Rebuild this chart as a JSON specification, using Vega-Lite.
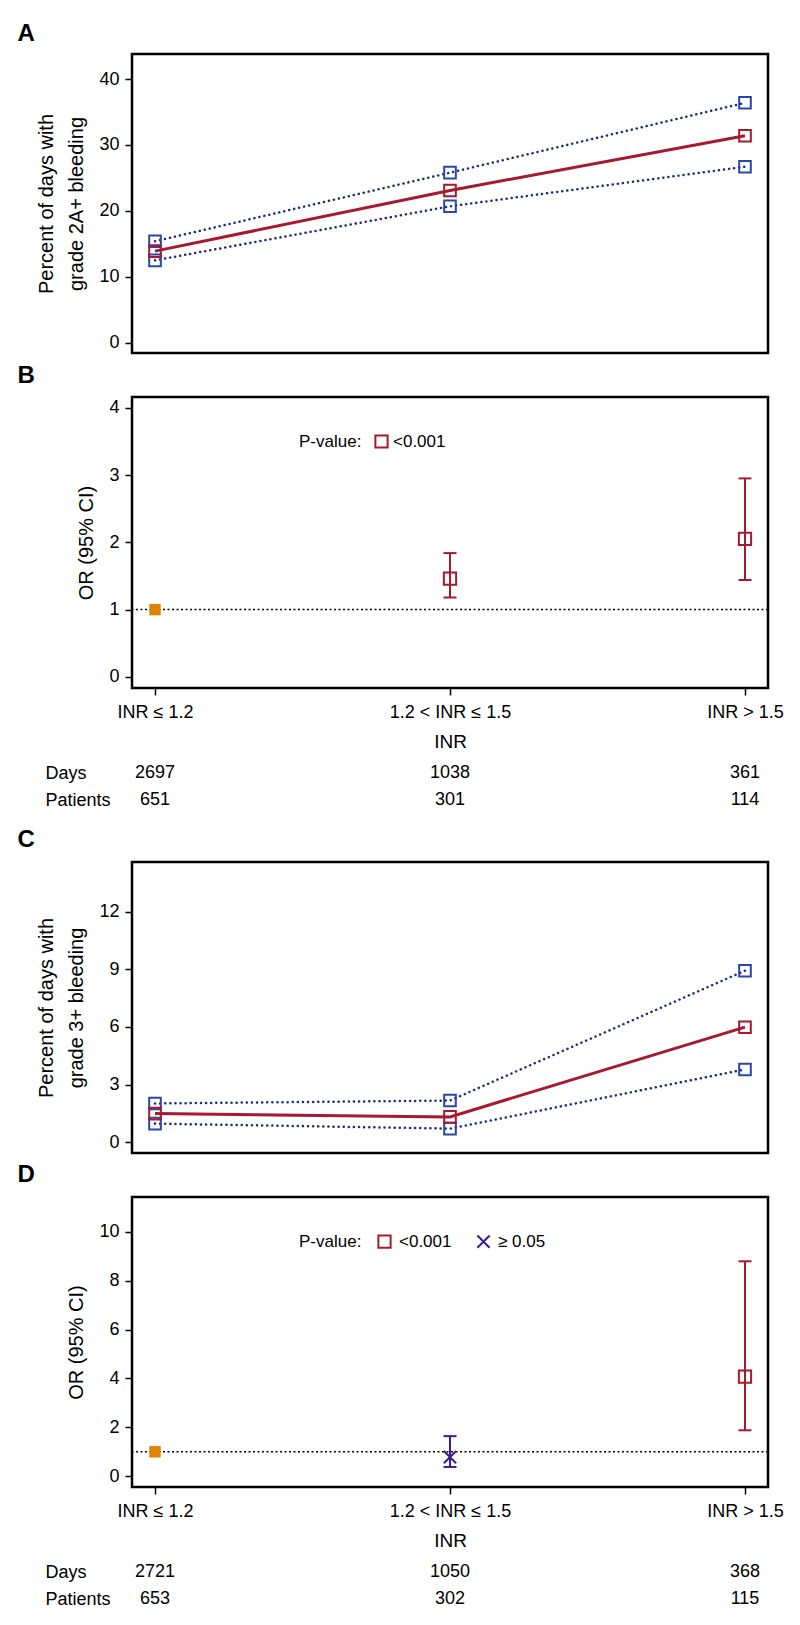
{
  "$schema": "https://vega.github.io/schema/vega-lite/v6.json",
  "padding": {"left": 16, "top": 2, "right": 0, "bottom": 0},
  "background": "white",
  "config": {
    "font": "Liberation Sans",
    "view": {"stroke": "black", "strokeWidth": 2.5},
    "axis": {"domain": false, "grid": false, "tickColor": "black", "tickWidth": 1.5, "tickSize": 7, "labelFontSize": 18, "labelColor": "black", "labelPadding": 6, "titleFontSize": 20, "titleFontWeight": "normal", "titleColor": "black", "titlePadding": 12}
  },
  "spacing": 44,
  "bounds": "flush",
  "resolve": {"scale": {"color": "independent", "shape": "independent"}},
  "vconcat": [
    {"width": 636, "height": 8, "data": {"values": []}, "mark": "point", "encoding": {}, "view": {"stroke": null}},
    {
      "width": 636, "height": 299,
      "title": {"text": "A", "anchor": "start", "frame": "group", "dx": -114.5, "dy": 24, "fontSize": 24, "fontWeight": "bold", "offset": 13, "baseline": "alphabetic", "color": "black"},
      "data": {"values": [
        {"inr": "INR ≤ 1.2", "k": 0, "est": 13.9, "lo": 12.5, "hi": 15.4},
        {"inr": "1.2 < INR ≤ 1.5", "k": 1, "est": 23.1, "lo": 20.7, "hi": 25.8},
        {"inr": "INR > 1.5", "k": 2, "est": 31.4, "lo": 26.7, "hi": 36.4}
      ]},
      "layer": [
        {"mark": {"type": "line", "color": "#1F2A7C", "strokeWidth": 2.5, "strokeDash": [0.1, 5], "strokeCap": "round"},
         "encoding": {
           "x": {"field": "inr", "type": "nominal", "scale": {"type": "point", "domain": ["INR ≤ 1.2", "1.2 < INR ≤ 1.5", "INR > 1.5"], "padding": 0.078}, "axis": null},
           "y": {"field": "lo", "type": "quantitative", "scale": {"domain": [-1.55, 43.8], "nice": false, "zero": false}, "axis": {"values": [0, 10, 20, 30, 40], "title": ["Percent of days with", "grade 2A+ bleeding"], "titleLineHeight": 30}},
           "order": {"field": "k"}}},
        {"mark": {"type": "line", "color": "#1F2A7C", "strokeWidth": 2.5, "strokeDash": [0.1, 5], "strokeCap": "round"},
         "encoding": {
           "x": {"field": "inr", "type": "nominal", "scale": {"type": "point"}, "axis": null},
           "y": {"field": "hi", "type": "quantitative"},
           "order": {"field": "k"}}},
        {"mark": {"type": "line", "color": "#A6192E", "strokeWidth": 3},
         "encoding": {
           "x": {"field": "inr", "type": "nominal", "scale": {"type": "point"}, "axis": null},
           "y": {"field": "est", "type": "quantitative"},
           "order": {"field": "k"}}},
        {"mark": {"type": "point", "shape": "square", "filled": false, "color": "#2848A8", "strokeWidth": 2, "size": 135, "opacity": 1},
         "encoding": {
           "x": {"field": "inr", "type": "nominal", "scale": {"type": "point"}, "axis": null},
           "y": {"field": "lo", "type": "quantitative"}}},
        {"mark": {"type": "point", "shape": "square", "filled": false, "color": "#2848A8", "strokeWidth": 2, "size": 135, "opacity": 1},
         "encoding": {
           "x": {"field": "inr", "type": "nominal", "scale": {"type": "point"}, "axis": null},
           "y": {"field": "hi", "type": "quantitative"}}},
        {"mark": {"type": "point", "shape": "square", "filled": false, "color": "#A6192E", "strokeWidth": 2, "size": 135, "opacity": 1},
         "encoding": {
           "x": {"field": "inr", "type": "nominal", "scale": {"type": "point"}, "axis": null},
           "y": {"field": "est", "type": "quantitative"}}}
      ]
    },
    {
      "width": 636, "height": 291,
      "title": {"text": "B", "anchor": "start", "frame": "group", "dx": -114.5, "dy": 23, "fontSize": 24, "fontWeight": "bold", "offset": 13, "baseline": "alphabetic", "color": "black"},
      "data": {"values": [
        {"inr": "1.2 < INR ≤ 1.5", "p": "<0.001", "est": 1.46, "lo": 1.18, "hi": 1.84},
        {"inr": "INR > 1.5", "p": "<0.001", "est": 2.05, "lo": 1.44, "hi": 2.95}
      ]},
      "layer": [
        {"data": {"values": [{"ref": 1}]},
         "mark": {"type": "rule", "color": "black", "strokeWidth": 1.5, "strokeDash": [2, 2.5]},
         "encoding": {
           "y": {"field": "ref", "type": "quantitative", "scale": {"domain": [-0.165, 4.16], "nice": false, "zero": false}, "axis": {"values": [0, 0.5, 1, 1.5, 2, 2.5, 3, 3.5, 4], "format": "d", "labelExpr": "datum.value % 1 === 0 ? datum.label : ''", "title": "OR (95% CI)"}}}},
        {"data": {"values": [{"inr": "INR ≤ 1.2", "or": 1}]},
         "mark": {"type": "point", "shape": "square", "filled": true, "color": "#E08400", "size": 130, "opacity": 1},
         "encoding": {
           "x": {"field": "inr", "type": "nominal", "scale": {"type": "point", "domain": ["INR ≤ 1.2", "1.2 < INR ≤ 1.5", "INR > 1.5"], "padding": 0.078}, "axis": {"title": "INR", "labelAngle": 0, "labelPadding": 8, "titlePadding": 11, "titleFontSize": 19}},
           "y": {"field": "or", "type": "quantitative"}}},
        {"mark": {"type": "rule", "strokeWidth": 2, "color": "#A6192E"},
         "encoding": {
           "x": {"field": "inr", "type": "nominal", "scale": {"type": "point"}},
           "y": {"field": "lo", "type": "quantitative"},
           "y2": {"field": "hi"}}},
        {"mark": {"type": "tick", "thickness": 2, "size": 13, "opacity": 1, "color": "#A6192E"},
         "encoding": {
           "x": {"field": "inr", "type": "nominal", "scale": {"type": "point"}},
           "y": {"field": "lo", "type": "quantitative"}}},
        {"mark": {"type": "tick", "thickness": 2, "size": 13, "opacity": 1, "color": "#A6192E"},
         "encoding": {
           "x": {"field": "inr", "type": "nominal", "scale": {"type": "point"}},
           "y": {"field": "hi", "type": "quantitative"}}},
        {"mark": {"type": "point", "filled": false, "strokeWidth": 2, "size": 150, "opacity": 1},
         "encoding": {
           "x": {"field": "inr", "type": "nominal", "scale": {"type": "point"}},
           "y": {"field": "est", "type": "quantitative"},
           "color": {"field": "p", "type": "nominal", "scale": {"domain": ["<0.001"], "range": ["#A6192E"]}, "legend": {"orient": "none", "legendX": 167, "legendY": 36, "direction": "horizontal", "title": "P-value:", "titleOrient": "left", "titleFontSize": 17, "titleFontWeight": "normal", "titleColor": "black", "labelFontSize": 17, "labelColor": "black", "symbolSize": 150, "symbolStrokeWidth": 2, "titlePadding": 11, "labelOffset": 3, "columnPadding": 21}},
           "shape": {"field": "p", "type": "nominal", "scale": {"domain": ["<0.001"], "range": ["square"]}, "legend": {"orient": "none", "legendX": 167, "legendY": 36, "direction": "horizontal", "title": "P-value:", "titleOrient": "left", "titleFontSize": 17, "titleFontWeight": "normal", "titleColor": "black", "labelFontSize": 17, "labelColor": "black", "symbolSize": 150, "symbolStrokeWidth": 2, "titlePadding": 11, "labelOffset": 3, "columnPadding": 21}}}}
      ]
    },
    {
      "width": 636, "height": 86,
      "view": {"stroke": null},
      "data": {"values": [
        {"inr": "INR ≤ 1.2", "row": "Days", "n": "2697"},
        {"inr": "1.2 < INR ≤ 1.5", "row": "Days", "n": "1038"},
        {"inr": "INR > 1.5", "row": "Days", "n": "361"},
        {"inr": "INR ≤ 1.2", "row": "Patients", "n": "651"},
        {"inr": "1.2 < INR ≤ 1.5", "row": "Patients", "n": "301"},
        {"inr": "INR > 1.5", "row": "Patients", "n": "114"}
      ]},
      "mark": {"type": "text", "fontSize": 18, "color": "black", "baseline": "middle", "align": "center"},
      "encoding": {
        "x": {"field": "inr", "type": "nominal", "scale": {"type": "point", "domain": ["INR ≤ 1.2", "1.2 < INR ≤ 1.5", "INR > 1.5"], "padding": 0.078}, "axis": null},
        "y": {"field": "row", "type": "nominal", "scale": {"type": "point", "domain": ["Days", "Patients"], "range": [41, 68], "padding": 0}, "axis": {"title": null, "labelAlign": "left", "labelPadding": 87, "ticks": false, "tickSize": 0, "domain": false, "labelFontSize": 18, "labelBaseline": "middle"}},
        "text": {"field": "n", "type": "nominal"}
      }
    },
    {
      "width": 636, "height": 291,
      "title": {"text": "C", "anchor": "start", "frame": "group", "dx": -114.5, "dy": 22, "fontSize": 24, "fontWeight": "bold", "offset": 13, "baseline": "alphabetic", "color": "black"},
      "data": {"values": [
        {"inr": "INR ≤ 1.2", "k": 0, "est": 1.49, "lo": 0.97, "hi": 2.02},
        {"inr": "1.2 < INR ≤ 1.5", "k": 1, "est": 1.32, "lo": 0.71, "hi": 2.17},
        {"inr": "INR > 1.5", "k": 2, "est": 5.99, "lo": 3.79, "hi": 8.93}
      ]},
      "layer": [
        {"mark": {"type": "line", "color": "#1F2A7C", "strokeWidth": 2.5, "strokeDash": [0.1, 5], "strokeCap": "round"},
         "encoding": {
           "x": {"field": "inr", "type": "nominal", "scale": {"type": "point", "domain": ["INR ≤ 1.2", "1.2 < INR ≤ 1.5", "INR > 1.5"], "padding": 0.078}, "axis": null},
           "y": {"field": "lo", "type": "quantitative", "scale": {"domain": [-0.56, 14.59], "nice": false, "zero": false}, "axis": {"values": [0, 3, 6, 9, 12], "title": ["Percent of days with", "grade 3+ bleeding"], "titleLineHeight": 30}},
           "order": {"field": "k"}}},
        {"mark": {"type": "line", "color": "#1F2A7C", "strokeWidth": 2.5, "strokeDash": [0.1, 5], "strokeCap": "round"},
         "encoding": {
           "x": {"field": "inr", "type": "nominal", "scale": {"type": "point"}, "axis": null},
           "y": {"field": "hi", "type": "quantitative"},
           "order": {"field": "k"}}},
        {"mark": {"type": "line", "color": "#A6192E", "strokeWidth": 3},
         "encoding": {
           "x": {"field": "inr", "type": "nominal", "scale": {"type": "point"}, "axis": null},
           "y": {"field": "est", "type": "quantitative"},
           "order": {"field": "k"}}},
        {"mark": {"type": "point", "shape": "square", "filled": false, "color": "#2848A8", "strokeWidth": 2, "size": 135, "opacity": 1},
         "encoding": {
           "x": {"field": "inr", "type": "nominal", "scale": {"type": "point"}, "axis": null},
           "y": {"field": "lo", "type": "quantitative"}}},
        {"mark": {"type": "point", "shape": "square", "filled": false, "color": "#2848A8", "strokeWidth": 2, "size": 135, "opacity": 1},
         "encoding": {
           "x": {"field": "inr", "type": "nominal", "scale": {"type": "point"}, "axis": null},
           "y": {"field": "hi", "type": "quantitative"}}},
        {"mark": {"type": "point", "shape": "square", "filled": false, "color": "#A6192E", "strokeWidth": 2, "size": 135, "opacity": 1},
         "encoding": {
           "x": {"field": "inr", "type": "nominal", "scale": {"type": "point"}, "axis": null},
           "y": {"field": "est", "type": "quantitative"}}}
      ]
    },
    {
      "width": 636, "height": 290,
      "title": {"text": "D", "anchor": "start", "frame": "group", "dx": -114.5, "dy": 22, "fontSize": 24, "fontWeight": "bold", "offset": 13, "baseline": "alphabetic", "color": "black"},
      "data": {"values": [
        {"inr": "1.2 < INR ≤ 1.5", "p": "≥ 0.05", "est": 0.78, "lo": 0.38, "hi": 1.64},
        {"inr": "INR > 1.5", "p": "<0.001", "est": 4.07, "lo": 1.88, "hi": 8.79}
      ]},
      "layer": [
        {"data": {"values": [{"ref": 1}]},
         "mark": {"type": "rule", "color": "black", "strokeWidth": 1.5, "strokeDash": [2, 2.5]},
         "encoding": {
           "y": {"field": "ref", "type": "quantitative", "scale": {"domain": [-0.44, 11.42], "nice": false, "zero": false}, "axis": {"values": [0, 2, 4, 6, 8, 10], "title": "OR (95% CI)"}}}},
        {"data": {"values": [{"inr": "INR ≤ 1.2", "or": 1}]},
         "mark": {"type": "point", "shape": "square", "filled": true, "color": "#E08400", "size": 130, "opacity": 1},
         "encoding": {
           "x": {"field": "inr", "type": "nominal", "scale": {"type": "point", "domain": ["INR ≤ 1.2", "1.2 < INR ≤ 1.5", "INR > 1.5"], "padding": 0.078}, "axis": {"title": "INR", "labelAngle": 0, "labelPadding": 8, "titlePadding": 11, "titleFontSize": 19}},
           "y": {"field": "or", "type": "quantitative"}}},
        {"mark": {"type": "rule", "strokeWidth": 2},
         "encoding": {
           "x": {"field": "inr", "type": "nominal", "scale": {"type": "point"}},
           "y": {"field": "lo", "type": "quantitative"},
           "y2": {"field": "hi"},
           "color": {"condition": {"test": "datum.p === '≥ 0.05'", "value": "#3A1E8C"}, "value": "#A6192E"}}},
        {"mark": {"type": "tick", "thickness": 2, "size": 13, "opacity": 1},
         "encoding": {
           "x": {"field": "inr", "type": "nominal", "scale": {"type": "point"}},
           "y": {"field": "lo", "type": "quantitative"},
           "color": {"condition": {"test": "datum.p === '≥ 0.05'", "value": "#3A1E8C"}, "value": "#A6192E"}}},
        {"mark": {"type": "tick", "thickness": 2, "size": 13, "opacity": 1},
         "encoding": {
           "x": {"field": "inr", "type": "nominal", "scale": {"type": "point"}},
           "y": {"field": "hi", "type": "quantitative"},
           "color": {"condition": {"test": "datum.p === '≥ 0.05'", "value": "#3A1E8C"}, "value": "#A6192E"}}},
        {"mark": {"type": "point", "filled": false, "strokeWidth": 2, "size": 150, "opacity": 1},
         "encoding": {
           "x": {"field": "inr", "type": "nominal", "scale": {"type": "point"}},
           "y": {"field": "est", "type": "quantitative"},
           "color": {"field": "p", "type": "nominal", "scale": {"domain": ["<0.001", "≥ 0.05"], "range": ["#A6192E", "#3A1E8C"]}, "legend": {"orient": "none", "legendX": 167, "legendY": 36, "direction": "horizontal", "title": "P-value:", "titleOrient": "left", "titleFontSize": 17, "titleFontWeight": "normal", "titleColor": "black", "labelFontSize": 17, "labelColor": "black", "symbolSize": 150, "symbolStrokeWidth": 2, "titlePadding": 14, "labelOffset": 6, "columnPadding": 21}},
           "shape": {"field": "p", "type": "nominal", "scale": {"domain": ["<0.001", "≥ 0.05"], "range": ["square", "M-1,-1L1,1M-1,1L1,-1"]}, "legend": {"orient": "none", "legendX": 167, "legendY": 36, "direction": "horizontal", "title": "P-value:", "titleOrient": "left", "titleFontSize": 17, "titleFontWeight": "normal", "titleColor": "black", "labelFontSize": 17, "labelColor": "black", "symbolSize": 150, "symbolStrokeWidth": 2, "titlePadding": 14, "labelOffset": 6, "columnPadding": 21}}}}
      ]
    },
    {
      "width": 636, "height": 86,
      "view": {"stroke": null},
      "data": {"values": [
        {"inr": "INR ≤ 1.2", "row": "Days", "n": "2721"},
        {"inr": "1.2 < INR ≤ 1.5", "row": "Days", "n": "1050"},
        {"inr": "INR > 1.5", "row": "Days", "n": "368"},
        {"inr": "INR ≤ 1.2", "row": "Patients", "n": "653"},
        {"inr": "1.2 < INR ≤ 1.5", "row": "Patients", "n": "302"},
        {"inr": "INR > 1.5", "row": "Patients", "n": "115"}
      ]},
      "mark": {"type": "text", "fontSize": 18, "color": "black", "baseline": "middle", "align": "center"},
      "encoding": {
        "x": {"field": "inr", "type": "nominal", "scale": {"type": "point", "domain": ["INR ≤ 1.2", "1.2 < INR ≤ 1.5", "INR > 1.5"], "padding": 0.078}, "axis": null},
        "y": {"field": "row", "type": "nominal", "scale": {"type": "point", "domain": ["Days", "Patients"], "range": [41, 68], "padding": 0}, "axis": {"title": null, "labelAlign": "left", "labelPadding": 87, "ticks": false, "tickSize": 0, "domain": false, "labelFontSize": 18, "labelBaseline": "middle"}},
        "text": {"field": "n", "type": "nominal"}
      }
    }
  ]
}
